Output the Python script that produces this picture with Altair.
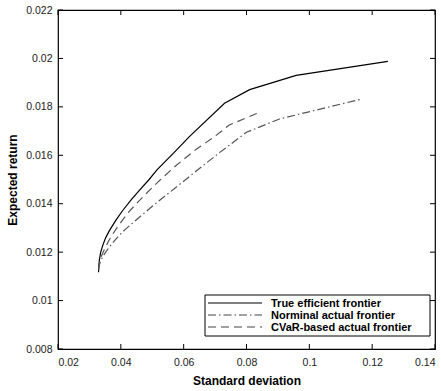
import altair as alt
import pandas as pd

# ---- data ----
true_sd = [0.0329, 0.0330, 0.0332, 0.0336, 0.0343, 0.0352, 0.0364, 0.0385, 0.0406,
           0.0432, 0.0459, 0.0490, 0.0515, 0.0570, 0.0619, 0.0730, 0.0810, 0.0958,
           0.1250]
true_ret = [0.01117, 0.01145, 0.01170, 0.01200, 0.01230, 0.01260, 0.01290, 0.01333,
            0.01372, 0.01415, 0.01455, 0.01500, 0.01540, 0.01612, 0.01678, 0.01815,
            0.01871, 0.01930, 0.01988]

nom_sd = [0.0329, 0.0331, 0.0334, 0.0339, 0.0345, 0.0352, 0.0360, 0.0372, 0.0385,
          0.0400, 0.0415, 0.0437, 0.0460, 0.0487, 0.0515, 0.0570, 0.0640, 0.0715,
          0.0800, 0.0905, 0.1166]
nom_ret = [0.01128, 0.01143, 0.01158, 0.01172, 0.01187, 0.01200, 0.01215, 0.01235,
           0.01255, 0.01276, 0.01295, 0.01320, 0.01345, 0.01375, 0.01405, 0.01462,
           0.01535, 0.01612, 0.01695, 0.01750, 0.01832]

cvar_sd = [0.0329, 0.0331, 0.0334, 0.0338, 0.0343, 0.0352, 0.0362, 0.0375, 0.0390,
           0.0407, 0.0425, 0.0447, 0.0470, 0.0495, 0.0520, 0.0576, 0.0640, 0.0693,
           0.0745, 0.0846]
cvar_ret = [0.01128, 0.01148, 0.01168, 0.01183, 0.01198, 0.01222, 0.01248, 0.01276,
            0.01305, 0.01335, 0.01365, 0.01397, 0.01428, 0.01460, 0.01492, 0.01558,
            0.01625, 0.01672, 0.01725, 0.01780]

series_names = ["True efficient frontier", "Norminal actual frontier",
                "CVaR-based actual frontier"]
x_ticks = [0.02, 0.04, 0.06, 0.08, 0.1, 0.12, 0.14]
y_ticks = [0.008, 0.01, 0.012, 0.014, 0.016, 0.018, 0.02, 0.022]

# ---- layout ----
W, H = 377, 339
FONT = "Liberation Sans"
TL = 5  # inward tick length

xs = alt.Scale(domain=[0.02, 0.14], nice=False, zero=False)
ys = alt.Scale(domain=[0.008, 0.022], nice=False, zero=False)
xaxis = alt.Axis(values=x_ticks, format="~g", ticks=False, domain=False, grid=False,
                 labelPadding=8, labelFontSize=10.5, labelColor="#222",
                 labelFont=FONT, titleFont=FONT, titleFontSize=12,
                 titleFontWeight="bold", titleColor="black", titlePadding=8)
yaxis = alt.Axis(values=y_ticks, format="~g", ticks=False, domain=False, grid=False,
                 labelPadding=6, labelFontSize=10.5, labelColor="#222",
                 labelFont=FONT, titleFont=FONT, titleFontSize=12,
                 titleFontWeight="bold", titleColor="black", titlePadding=6)
X = alt.X("x:Q", scale=xs, axis=xaxis, title="Standard deviation")
Y = alt.Y("y:Q", scale=ys, axis=yaxis, title="Expected return")


def series(sd, ret):
    return pd.DataFrame({"x": sd, "y": ret, "i": range(len(sd))})


true_line = alt.Chart(series(true_sd, true_ret)).mark_line(
    color="black", strokeWidth=1.2).encode(x=X, y=Y, order="i:Q")
nom_line = alt.Chart(series(nom_sd, nom_ret)).mark_line(
    color="#555", strokeWidth=1.2, strokeDash=[8, 3, 1.5, 3]).encode(x=X, y=Y, order="i:Q")
cvar_line = alt.Chart(series(cvar_sd, cvar_ret)).mark_line(
    color="#555", strokeWidth=1.2, strokeDash=[8, 5]).encode(x=X, y=Y, order="i:Q")

xt = pd.DataFrame({"x": x_ticks})
yt = pd.DataFrame({"y": y_ticks})
tick_b = alt.Chart(xt).mark_rule(color="black").encode(x=X, y=alt.value(H), y2=alt.value(H - TL))
tick_t = alt.Chart(xt).mark_rule(color="black").encode(x=X, y=alt.value(0), y2=alt.value(TL))
tick_l = alt.Chart(yt).mark_rule(color="black").encode(y=Y, x=alt.value(0), x2=alt.value(TL))
tick_r = alt.Chart(yt).mark_rule(color="black").encode(y=Y, x=alt.value(W), x2=alt.value(W - TL))

# ---- legend (drawn inside the plot, bottom right) ----
one = pd.DataFrame({"a": [0]})
box = alt.Chart(one).mark_rect(fill="white", stroke="black", strokeWidth=1).encode(
    x=alt.value(147), x2=alt.value(372), y=alt.value(285), y2=alt.value(326))
rows = [293, 305, 317]
styles = [dict(color="black"),
          dict(color="#444", strokeDash=[8, 3, 1.5, 3]),
          dict(color="#444", strokeDash=[8, 5])]
legend_layers = [box]
for name, ry, st in zip(series_names, rows, styles):
    legend_layers.append(alt.Chart(one).mark_rule(strokeWidth=1.1, **st).encode(
        x=alt.value(150), x2=alt.value(204), y=alt.value(ry)))
    legend_layers.append(alt.Chart(one).mark_text(
        align="left", baseline="middle", font=FONT, fontSize=11, fontWeight="bold",
        color="black").encode(x=alt.value(213), y=alt.value(ry + 0.5), text=alt.value(name)))

chart = alt.layer(
    true_line, nom_line, cvar_line, tick_b, tick_t, tick_l, tick_r, *legend_layers
).properties(
    width=W, height=H,
    autosize=alt.AutoSizeParams(type="none"),
    padding={"left": 58, "top": 10, "right": 6, "bottom": 42},
    background="white",
).configure_view(stroke="black", strokeWidth=1.2)

chart.save("out.html", embed_options={"renderer": "svg", "actions": False})
